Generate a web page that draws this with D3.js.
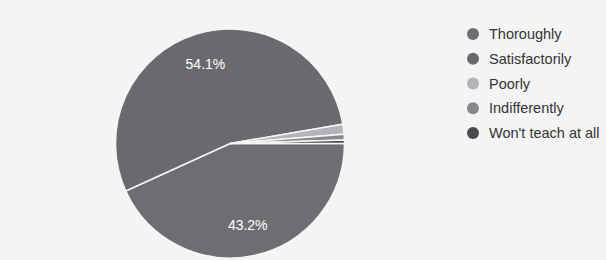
<!DOCTYPE html>
<html>
<head>
<meta charset="utf-8">
<script src="https://cdn.jsdelivr.net/npm/d3@7"></script>
<style>
    body { margin: 0; background: #f5f4f5; }
    svg { display: block; font-family: Arial, "Liberation Sans", sans-serif; }
</style>
</head>
<body>
<script>
const categories = ["Thoroughly", "Satisfactorily", "Poorly", "Indifferently", "Won't teach at all"];
const values = [43.2, 54.1, 1.4, 0.8, 0.5];
const sliceColors = ["#6e6e72", "#6a6a6e", "#b4b4b8", "#88888c", "#4a4a4e"];

const width = 606;
const height = 260;
const center = { x: 230, y: 143.5 };
const radius = 114.5;

const svg = d3.select("body")
    .append("svg")
    .attr("width", width)
    .attr("height", height);

const data = categories.map((name, i) => ({ name: name, value: values[i] }));
const total = d3.sum(values);

// google style: starts at 3 o'clock here, goes clockwise
const pie = d3.pie()
    .sort(null)
    .value(d => d.value)
    .startAngle(Math.PI / 2)
    .endAngle(Math.PI / 2 + Math.PI * 2);

const arc = d3.arc()
    .innerRadius(0)
    .outerRadius(radius);

const labelArc = d3.arc()
    .innerRadius(radius * 0.73)
    .outerRadius(radius * 0.73);

const color = d3.scaleOrdinal()
    .domain(categories)
    .range(sliceColors);

const chart = svg.append("g")
    .attr("transform", `translate(${center.x},${center.y})`);

chart.selectAll("path")
    .data(pie(data))
    .enter()
    .append("path")
    .attr("d", arc)
    .attr("fill", d => color(d.data.name))
    .attr("stroke", "#f5f4f5")
    .attr("stroke-width", 1.5);

chart.selectAll("text")
    .data(pie(data).filter(d => d.data.value / total > 0.05))
    .enter()
    .append("text")
    .attr("transform", d => `translate(${labelArc.centroid(d)})`)
    .attr("text-anchor", "middle")
    .attr("dy", "0.35em")
    .attr("fill", "#ffffff")
    .style("font-size", "14px")
    .text(d => (d.data.value / total * 100).toFixed(1) + "%");

const legendY = d3.scalePoint()
    .domain(categories)
    .range([34, 133]);

const legend = svg.append("g")
    .attr("transform", "translate(473,0)");

const items = legend.selectAll("g")
    .data(categories)
    .enter()
    .append("g")
    .attr("transform", d => `translate(0,${legendY(d)})`);

items.append("circle")
    .attr("r", 6)
    .attr("fill", d => color(d));

items.append("text")
    .attr("x", 16)
    .attr("dy", "0.35em")
    .attr("fill", "#333333")
    .style("font-size", "14.5px")
    .text(d => d);
</script>
</body>
</html>
